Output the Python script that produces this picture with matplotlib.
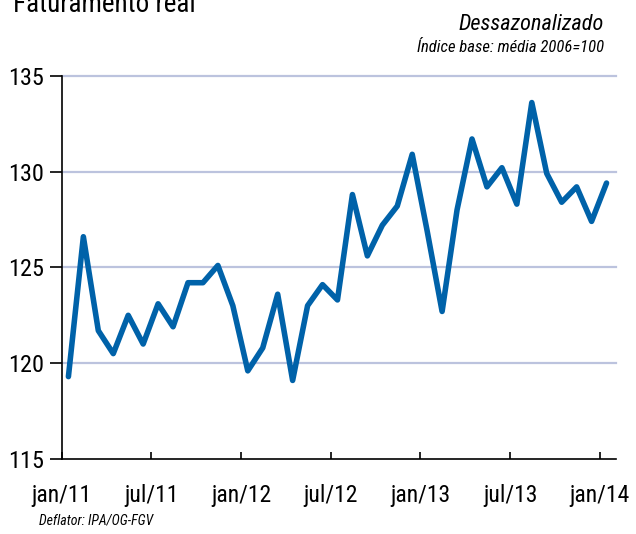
import numpy as np
import matplotlib.pyplot as plt

# Faturamento real, dessazonalizado (jan/11 .. jan/14)
values = [119.3, 126.6, 121.7, 120.5, 122.5, 121.0, 123.1, 121.9, 124.2, 124.2,
          125.1, 123.0, 119.6, 120.8, 123.6, 119.1, 123.0, 124.1, 123.3, 128.8,
          125.6, 127.2, 128.2, 130.9, 126.9, 122.7, 128.0, 131.7, 129.2, 130.2,
          128.3, 133.6, 129.9, 128.4, 129.2, 127.4, 129.4]
tick_labels = ['jan/11', 'jul/11', 'jan/12', 'jul/12', 'jan/13', 'jul/13', 'jan/14']
yticks = [115, 120, 125, 130, 135]

plt.rcParams['font.family'] = ['Roboto Condensed', 'DejaVu Sans']

fig = plt.figure(figsize=(6.36, 5.34), dpi=100)
ax = fig.add_axes([0.097, 0.1404, 0.871, 0.7178])

months = np.arange(len(values)) + 0.45
ax.plot(months, values, color='#0062a9', lw=4, solid_joinstyle='round',
        solid_capstyle='round', zorder=3)

for y in yticks[1:]:
    ax.axhline(y, color='#bcc3de', lw=1.6, zorder=1, clip_on=False)

ax.set_xlim(0, 37.06)
ax.set_ylim(115, 135)
ax.set_yticks(yticks)
ax.set_yticklabels([str(v) for v in yticks])
ax.set_xticks(np.arange(0, 37, 6))
ax.set_xticklabels(tick_labels)

for s in ['top', 'right']:
    ax.spines[s].set_visible(False)
ax.spines['left'].set_linewidth(1.2)
ax.spines['bottom'].set_linewidth(1.2)

ax.tick_params(axis='y', direction='out', length=9, width=1.2, labelsize=17.5, pad=4)
ax.tick_params(axis='x', direction='in', length=5, width=1.2, labelsize=17, pad=18)
for t in ax.get_yticklines()[::4]:
    t.set_color('#777777')

fig.text(0.02, 0.978, 'Faturamento real', fontsize=19.5, ha='left', va='baseline')
fig.text(0.950, 0.944, 'Dessazonalizado', fontsize=16, style='italic',
         ha='right', va='baseline')
fig.text(0.950, 0.903, 'Índice base: média 2006=100', fontsize=12, style='italic',
         ha='right', va='baseline')
fig.text(0.061, 0.018, 'Deflator: IPA/OG-FGV', fontsize=10, style='italic',
         ha='left', va='baseline')

fig.savefig('out.png', dpi=100)
